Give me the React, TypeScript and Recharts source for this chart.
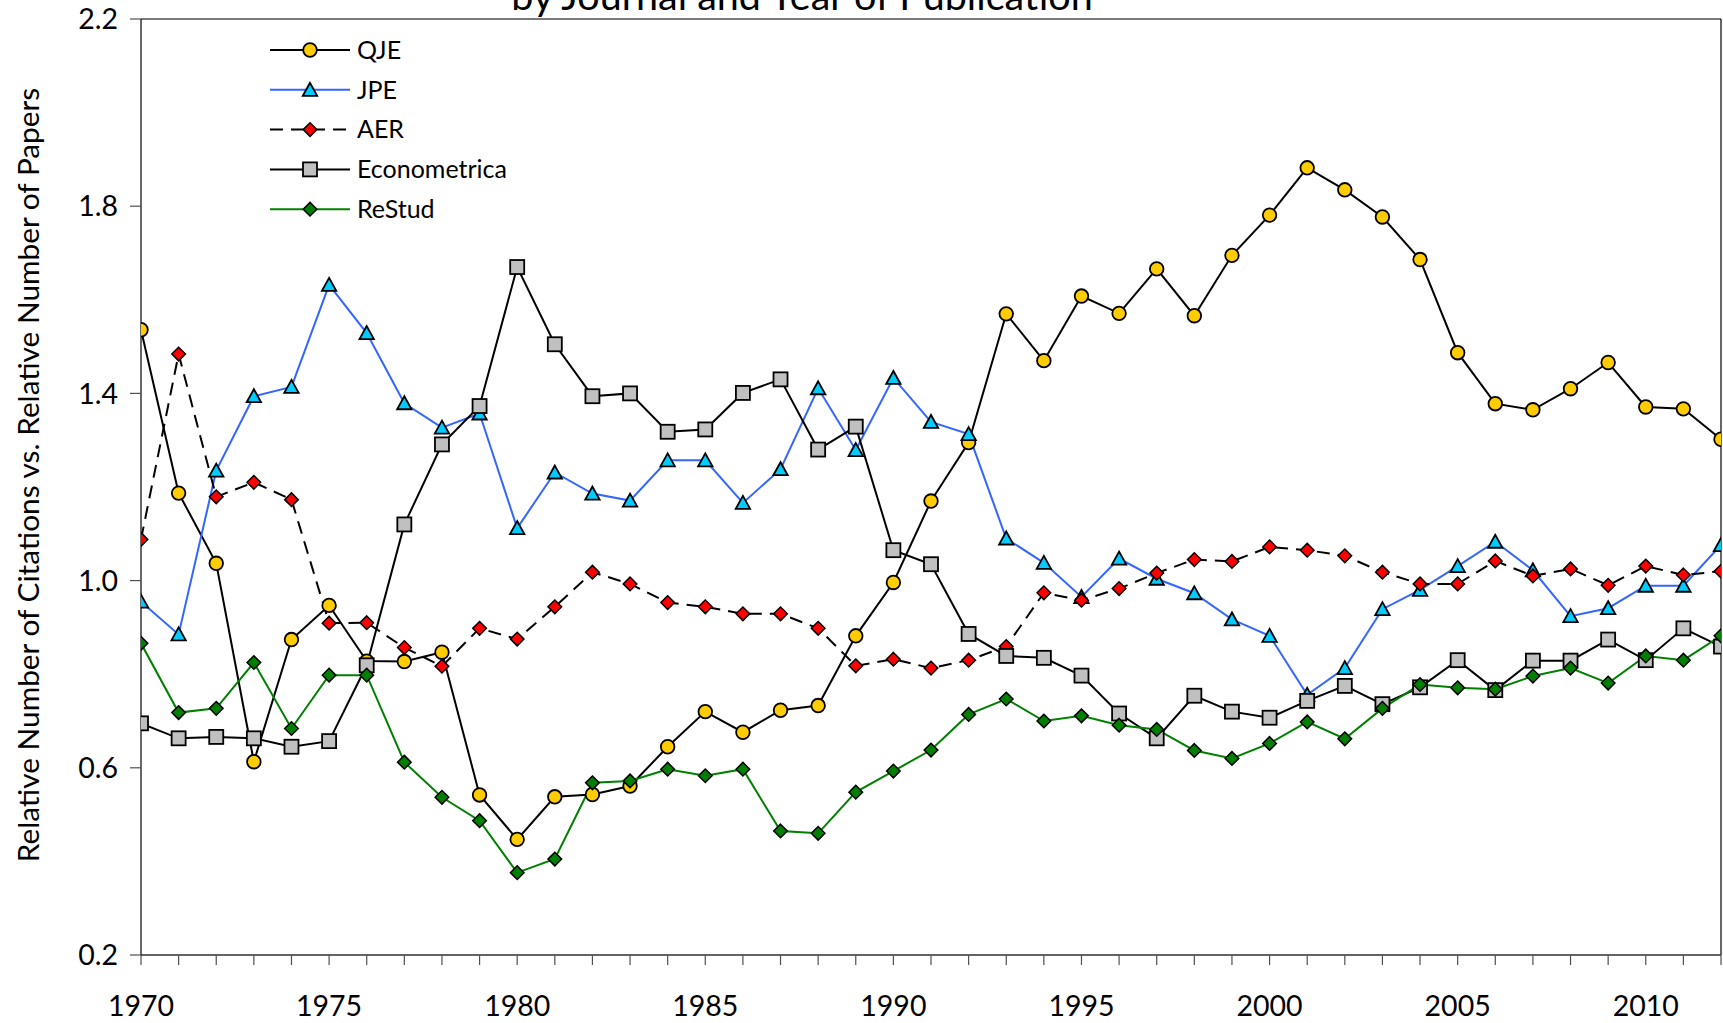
import React from 'react';
import { LineChart, Line, XAxis, YAxis, ReferenceLine, Customized } from 'recharts';

const years = [
  1970, 1971, 1972, 1973, 1974, 1975, 1976, 1977, 1978, 1979,
  1980, 1981, 1982, 1983, 1984, 1985, 1986, 1987, 1988, 1989,
  1990, 1991, 1992, 1993, 1994, 1995, 1996, 1997, 1998, 1999,
  2000, 2001, 2002, 2003, 2004, 2005, 2006, 2007, 2008, 2009,
  2010, 2011, 2012,
];

const qje = [
  1.536, 1.187, 1.037, 0.613, 0.874, 0.947, 0.828, 0.827, 0.847, 0.542,
  0.447, 0.538, 0.543, 0.561, 0.645, 0.720, 0.676, 0.723, 0.733, 0.882,
  0.996, 1.170, 1.295, 1.570, 1.470, 1.608, 1.571, 1.666, 1.566, 1.695,
  1.781, 1.882, 1.835, 1.777, 1.686, 1.487, 1.378, 1.365, 1.410, 1.466,
  1.371, 1.367, 1.302,
];

const jpe = [
  0.955, 0.885, 1.235, 1.394, 1.414, 1.632, 1.529, 1.379, 1.327, 1.357,
  1.112, 1.231, 1.186, 1.171, 1.257, 1.257, 1.166, 1.238, 1.411, 1.279,
  1.433, 1.339, 1.313, 1.090, 1.038, 0.965, 1.047, 1.004, 0.973, 0.917,
  0.882, 0.756, 0.813, 0.939, 0.980, 1.031, 1.083, 1.022, 0.924, 0.941,
  0.989, 0.989, 1.076,
];

const aer = [
  1.088, 1.484, 1.179, 1.210, 1.173, 0.909, 0.910, 0.857, 0.817, 0.898,
  0.875, 0.944, 1.018, 0.993, 0.953, 0.944, 0.929, 0.929, 0.898, 0.818,
  0.832, 0.813, 0.830, 0.859, 0.974, 0.958, 0.983, 1.016, 1.045, 1.041,
  1.072, 1.065, 1.053, 1.018, 0.993, 0.993, 1.042, 1.010, 1.025, 0.990,
  1.031, 1.012, 1.020,
];

const econometrica = [
  0.695, 0.663, 0.666, 0.663, 0.645, 0.657, 0.819, 1.120, 1.291, 1.373,
  1.670, 1.505, 1.394, 1.400, 1.318, 1.323, 1.401, 1.430, 1.280, 1.329,
  1.065, 1.035, 0.886, 0.839, 0.835, 0.797, 0.716, 0.663, 0.754, 0.720,
  0.707, 0.743, 0.775, 0.736, 0.772, 0.830, 0.766, 0.829, 0.829, 0.874,
  0.830, 0.898, 0.859,
];

const restud = [
  0.866, 0.718, 0.727, 0.825, 0.684, 0.798, 0.798, 0.612, 0.537, 0.487,
  0.376, 0.405, 0.568, 0.572, 0.597, 0.583, 0.597, 0.465, 0.460, 0.548,
  0.593, 0.638, 0.714, 0.747, 0.700, 0.711, 0.691, 0.682, 0.637, 0.620,
  0.652, 0.698, 0.662, 0.727, 0.778, 0.771, 0.768, 0.796, 0.813, 0.781,
  0.839, 0.830, 0.882,
];

const yTicks = [0.2, 0.6, 1.0, 1.4, 1.8, 2.2];
const titleText = 'by Journal and Year of Publication';
const yLabelText = 'Relative Number of Citations vs. Relative Number of Papers';

type SeriesDef = {
  key: string;
  name: string;
  values: number[];
  stroke: string;
  dash?: string;
  shape: 'circle' | 'triangle' | 'diamond' | 'square';
  fill: string;
};

const series: SeriesDef[] = [
  { key: 'qje', name: 'QJE', values: qje, stroke: '#000000', shape: 'circle', fill: '#FFCC00' },
  { key: 'jpe', name: 'JPE', values: jpe, stroke: '#3366FF', shape: 'triangle', fill: '#00CCFF' },
  { key: 'aer', name: 'AER', values: aer, stroke: '#000000', dash: '13 8', shape: 'diamond', fill: '#FF0000' },
  { key: 'econometrica', name: 'Econometrica', values: econometrica, stroke: '#000000', shape: 'square', fill: '#C0C0C0' },
  { key: 'restud', name: 'ReStud', values: restud, stroke: '#008000', shape: 'diamond', fill: '#008000' },
];

const data = years.map((year, i) => {
  const row: Record<string, number> = { year };
  series.forEach((s) => {
    row[s.key] = s.values[i];
  });
  return row;
});

const FONT = 'Lato, "Open Sans", sans-serif';

function Marker({ shape, fill, cx, cy }: { shape: string; fill: string; cx: number; cy: number }) {
  const sw = 1.8;
  if (shape === 'circle') {
    return <circle cx={cx} cy={cy} r={6.8} fill={fill} stroke="#000" strokeWidth={sw} />;
  }
  if (shape === 'triangle') {
    const pts = `${cx},${cy - 7} ${cx - 7.2},${cy + 6} ${cx + 7.2},${cy + 6}`;
    return <polygon points={pts} fill={fill} stroke="#000" strokeWidth={sw} strokeLinejoin="miter" />;
  }
  if (shape === 'diamond') {
    const pts = `${cx},${cy - 6.8} ${cx + 6.8},${cy} ${cx},${cy + 6.8} ${cx - 6.8},${cy}`;
    return <polygon points={pts} fill={fill} stroke="#000" strokeWidth={1.5} />;
  }
  return <rect x={cx - 7} y={cy - 7} width={14} height={14} fill={fill} stroke="#000" strokeWidth={sw} />;
}

function makeDot(s: SeriesDef) {
  return (props: any) => {
    const { cx, cy, index } = props;
    if (cx == null || cy == null) return <g key={`${s.key}-${index}`} />;
    return (
      <g key={`${s.key}-${index}`}>
        <Marker shape={s.shape} fill={s.fill} cx={cx} cy={cy} />
      </g>
    );
  };
}

function LegendAndTitle() {
  const lx0 = 270;
  const lx1 = 350;
  const mx = 310;
  const tx = 357;
  const y0 = 50;
  const dy = 39.8;
  return (
    <g>
      <text x={802} y={10} textAnchor="middle" fontFamily={FONT} fontSize={39.5} fill="#000">
        {titleText}
      </text>
      {series.map((s, i) => {
        const y = y0 + i * dy;
        return (
          <g key={s.key}>
            <line x1={lx0} y1={y} x2={lx1} y2={y} stroke={s.stroke} strokeWidth={2} strokeDasharray={s.dash} />
            <Marker shape={s.shape} fill={s.fill} cx={mx} cy={y} />
            <text x={tx} y={y} dy="0.35em" fontFamily={FONT} fontSize={25} fill="#000">
              {s.name}
            </text>
          </g>
        );
      })}
    </g>
  );
}

export default function App() {
  return (
    <div
      style={{
        position: 'fixed',
        left: 0,
        top: 0,
        width: 1723,
        height: 1023,
        overflow: 'hidden',
        background: '#fff',
      }}
    >
      <LineChart
        width={1723}
        height={1023}
        data={data}
        margin={{ top: 19, right: 2, bottom: 8, left: 0 }}
      >
        <XAxis
          dataKey="year"
          type="number"
          domain={[1970, 2012]}
          ticks={years}
          interval={0}
          tickFormatter={(v: number) => (v % 5 === 0 ? String(v) : '')}
          height={60}
          tickSize={10}
          tickMargin={31}
          stroke="#404040"
          axisLine={{ stroke: '#303030', strokeWidth: 1.5 }}
          tickLine={{ stroke: '#505050', strokeWidth: 1.2 }}
          tick={{ fontFamily: FONT, fontSize: 28.5, fill: '#000' }}
          allowDataOverflow
        />
        <YAxis
          type="number"
          domain={[0.2, 2.2]}
          ticks={yTicks}
          interval={0}
          width={141}
          tickSize={11}
          tickMargin={12}
          tickFormatter={(v: number) => v.toFixed(1)}
          axisLine={{ stroke: '#000', strokeWidth: 1.2 }}
          tickLine={{ stroke: '#505050', strokeWidth: 1.2 }}
          tick={{ fontFamily: FONT, fontSize: 28.5, fill: '#000' }}
          label={{
            content: () => (
              <text
                x={27}
                y={475}
                transform="rotate(-90 27 475)"
                textAnchor="middle"
                dominantBaseline="central"
                fontFamily={FONT}
                fontSize={29.8}
                fill="#000"
              >
                {yLabelText}
              </text>
            ),
          }}
        />
        <ReferenceLine y={2.2} stroke="#7a7a7a" strokeWidth={2} />
        <ReferenceLine x={2012} stroke="#000" strokeWidth={1.2} />
        {series.map((s) => (
          <Line
            key={s.key}
            type="linear"
            dataKey={s.key}
            name={s.name}
            stroke={s.stroke}
            strokeWidth={2}
            strokeDasharray={s.dash}
            dot={makeDot(s)}
            activeDot={false}
            isAnimationActive={false}
          />
        ))}
        <Customized component={LegendAndTitle} />
      </LineChart>
    </div>
  );
}
